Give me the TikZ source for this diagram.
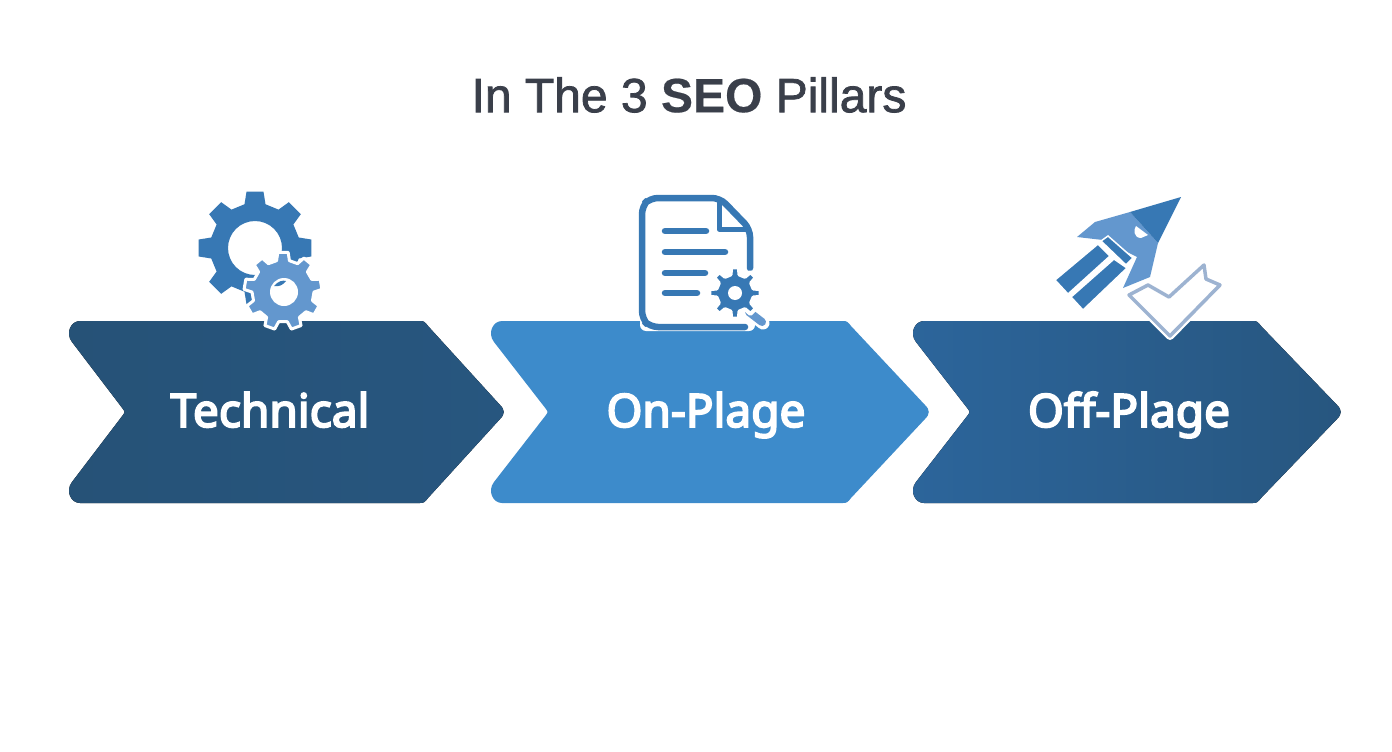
\documentclass[tikz,border=0pt]{standalone}
\usepackage{fontspec}
\setmainfont{Noto Sans}
\newfontfamily\pillarfont[FakeBold=4]{Noto Sans}
\newfontfamily\titlefont[FakeBold=1.6]{Liberation Sans}
\newfontfamily\titleboldfont[FakeBold=0.4]{Liberation Sans Bold}
\usetikzlibrary{calc}
\definecolor{navy}{HTML}{27567F}
\definecolor{navydark}{HTML}{265277}
\definecolor{midblue}{HTML}{3D8BCB}
\definecolor{steel}{HTML}{2C659B}
\definecolor{iconblue}{HTML}{3778B4}
\definecolor{iconlight}{HTML}{6397CE}
\definecolor{checkline}{HTML}{9DB3D1}
\definecolor{titlegrey}{HTML}{3A3F4A}
\tikzset{
    pillartext/.style={text=white,anchor=base,font=\fontsize{46}{50}\selectfont\pillarfont},
    iconline/.style={draw=iconblue,line width=6.5pt,line cap=round}
}
% left, end of top edge, tip, notch
\newcommand{\pillarpath}[4]{
    ({#1+12},321) -- (#2,321) .. controls ({#2+4},321) and ({#2+5},322) .. ({#2+8},326)
    -- ({#3-4},405) .. controls ({#3+1},410) and ({#3+1},414) .. ({#3-4},419)
    -- ({#2+8},498) .. controls ({#2+5},502) and ({#2+4},503) .. (#2,503)
    -- ({#1+12},503) .. controls ({#1+3},503) and ({#1-3},491) .. ({#1+4},482)
    -- ({#4-2},415) .. controls (#4,412) .. ({#4-2},409)
    -- ({#1+4},342) .. controls ({#1-3},333) and ({#1+3},321) .. ({#1+12},321) -- cycle
}
% cx, cy, outer, inner, teeth, turn
\newcommand{\gearpath}[6]{
    ([shift={(#1,#2)}]#6-0.30*360/#5:#4)
    \foreach \k in {1,...,#5}{
        -- ([shift={(#1,#2)}]#6+\k*360/#5-360/#5-0.19*360/#5:#3)
        -- ([shift={(#1,#2)}]#6+\k*360/#5-360/#5+0.19*360/#5:#3)
        -- ([shift={(#1,#2)}]#6+\k*360/#5-360/#5+0.30*360/#5:#4)
        -- ([shift={(#1,#2)}]#6+\k*360/#5-0.30*360/#5:#4)
    } -- cycle
}
\begin{document}
\begin{tikzpicture}[x=1pt,y=-1pt]
    \useasboundingbox[fill=white] (0,0) rectangle (1392,752);
    % Title
    \node[text=titlegrey,font=\fontsize{48}{50}\selectfont\titlefont] (title) at (689,95)
        {In The 3 {\titleboldfont SEO} Pillars};
    % Chevrons
    \fill[left color=navydark,right color=navy] \pillarpath{68}{420}{504}{125};
    \fill[midblue] \pillarpath{490}{843}{929}{548};
    \fill[left color=steel,right color=navy] \pillarpath{912}{1253}{1341}{970};
    \node[pillartext] (technical) at (270,427) {Technical};
    \node[pillartext] (onpage) at (706,427) {On-Plage};
    \node[pillartext] (offpage) at (1129,427) {Off-Plage};
    % Gears
    \fill[iconblue,even odd rule] \gearpath{255}{248}{57}{45}{8}{0} (255,248) circle[radius=27];
    \filldraw[fill=iconlight,draw=white,line width=3pt,line join=round] \gearpath{283}{291}{39}{31}{9}{-90};
    \fill[white] (284,292) circle[radius=14];
    \fill[iconblue] (274,286) .. controls (278,281) and (283,280) .. (286,281)
        .. controls (283,285) and (279,287) .. (274,286) -- cycle;
    % Document
    \draw[white,fill=white,line width=12pt,line join=round] (646,201) -- (721,201) -- (749,231)
        -- (749,325) -- (646,325) -- cycle;
    \draw[iconline,rounded corners=8pt] (750,268) -- (750,229) -- (720,198) -- (650,198)
        -- (642,206) -- (642,319) -- (650,327) -- (745,327);
    \draw[iconblue,line width=5pt,line join=round] (719,200) -- (719,229) -- (750,229);
    \draw[iconline] (665,231) -- (706,231);
    \draw[iconline] (665,252) -- (725,252);
    \draw[iconline] (665,273) -- (705,273);
    \draw[iconline] (665,293) -- (697,293);
    \draw[white,line width=13pt,line cap=round] (748,311) -- (763,323);
    \draw[iconlight,line width=8pt,line cap=round] (749,312) -- (762,322);
    \filldraw[fill=iconblue,draw=white,line width=4pt,line join=round] \gearpath{735}{293}{26}{19}{8}{0};
    \fill[white] (735,293) circle[radius=7];
    % Rocket
    \fill[iconlight] (1130,212) -- (1095,222) -- (1077,237) -- (1103,240) -- (1137,257)
        -- (1123,288) -- (1150,277) -- (1158,243) -- cycle;
    \fill[iconblue] (1181,197) -- (1130,212) -- (1158,243) -- cycle;
    \fill[white] (1136,226) -- (1148,235) -- (1141,238) .. controls (1134,238) and (1133,230) .. (1136,226) -- cycle;
    \filldraw[fill=iconblue,draw=white,line width=1.5pt] (1055,280) -- (1098,244) -- (1110,256) -- (1068,294) -- cycle;
    \filldraw[fill=iconblue,draw=white,line width=1.5pt] (1071,297) -- (1114,259) -- (1127,268) -- (1083,310) -- cycle;
    \filldraw[fill=iconblue,draw=white,line width=1.5pt] (1101,241) -- (1108,236) -- (1133,258) -- (1126,265) -- cycle;
    % Check mark
    \draw[white,line width=8pt,line join=round] (1129,295) -- (1148,285) -- (1169,297) -- (1204,265)
        -- (1206,279) -- (1220,285) -- (1170,336) -- cycle;
    \filldraw[fill=white,draw=checkline,line width=3.5pt,line join=round] (1129,295) -- (1148,285)
        -- (1169,297) -- (1204,265) -- (1206,279) -- (1220,285) -- (1170,336) -- cycle;
\end{tikzpicture}
\end{document}
